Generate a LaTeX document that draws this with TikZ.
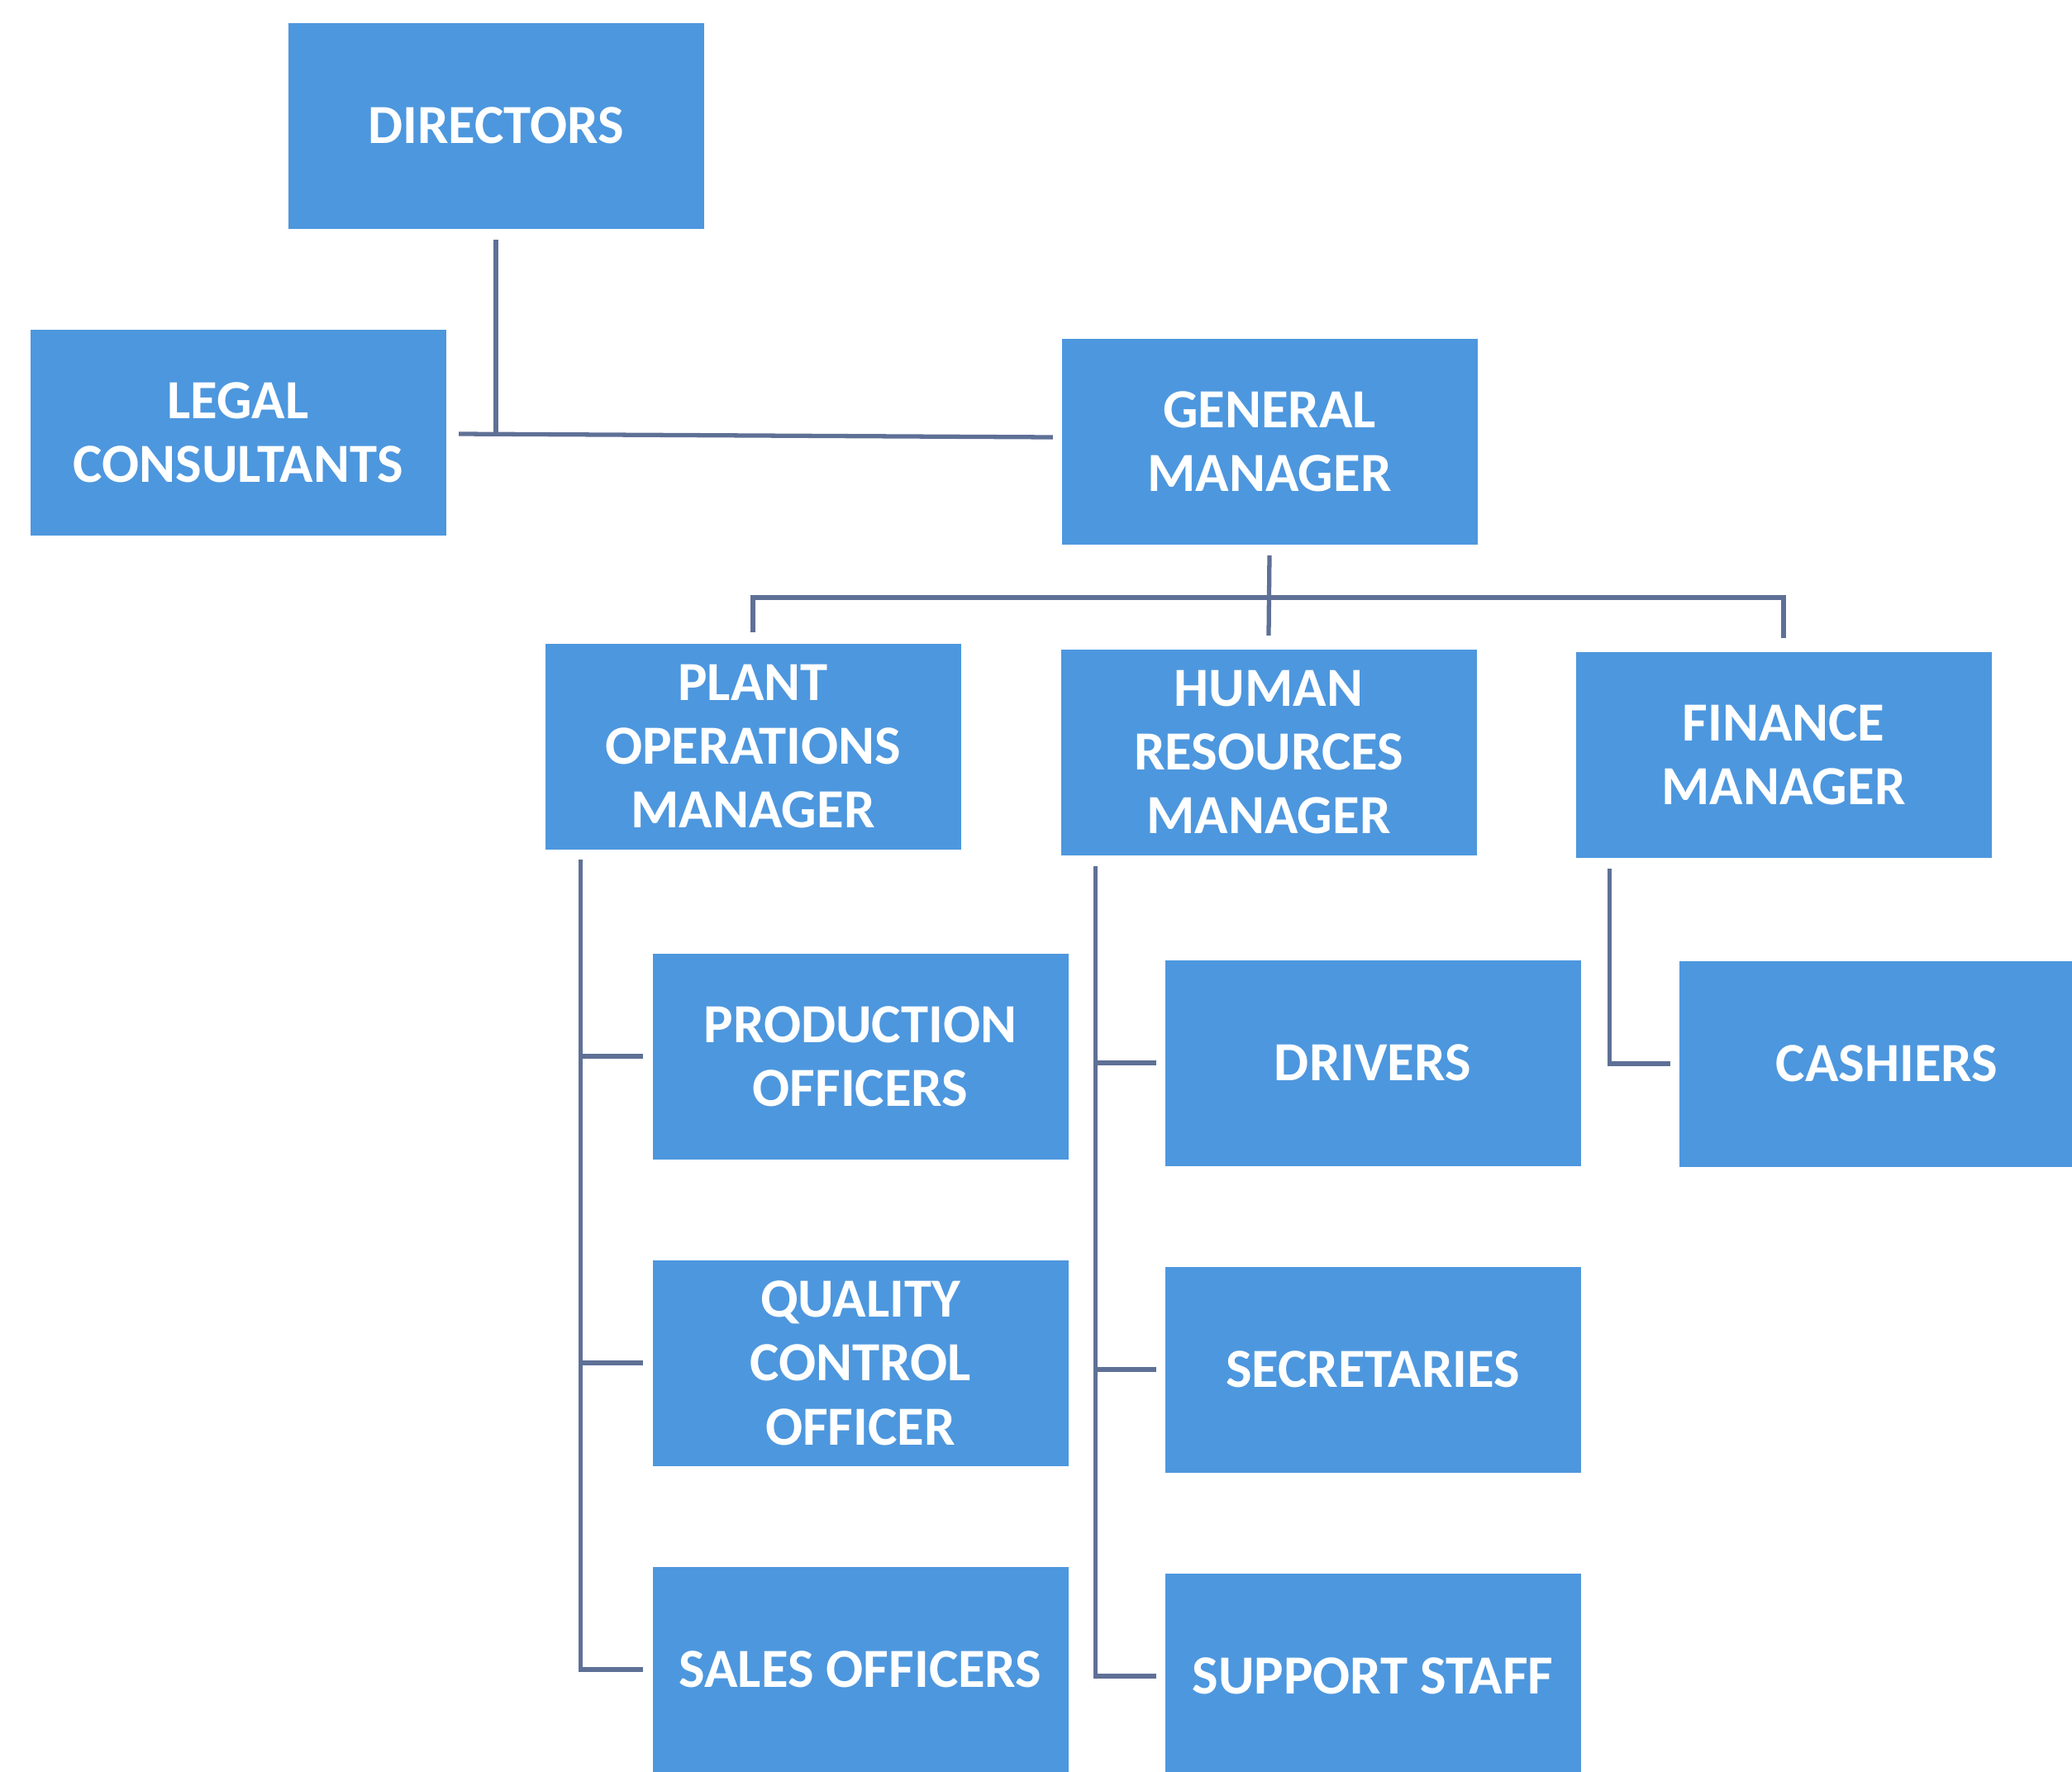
\documentclass[tikz,border=0pt]{standalone}
\usepackage{fontspec}
\setmainfont{Carlito}
\definecolor{boxblue}{RGB}{77,151,222}
\definecolor{linegray}{RGB}{95,112,150}

\begin{document}
\begin{tikzpicture}[
  post/.style={rectangle, fill=boxblue, text=white, align=center,
    font=\bfseries\fontsize{19}{22}\selectfont,
    minimum width=5.03cm, minimum height=2.49cm, inner sep=0pt},
  link/.style={draw=linegray, line width=1.5pt}
]
  \useasboundingbox (0,0) rectangle (25.07,-21.44);

  \node[post] (dir) at (6.00,-1.52) {DIRECTORS};
  \node[post] (legal) at (2.88,-5.23) {LEGAL\\CONSULTANTS};
  \node[post] (gm) at (15.36,-5.34) {GENERAL\\MANAGER};

  \node[post] (plant) at (9.11,-9.03) {PLANT\\OPERATIONS\\MANAGER};
  \node[post] (hr) at (15.35,-9.10) {HUMAN\\RESOURCES\\MANAGER};
  \node[post] (fin) at (21.58,-9.13) {FINANCE\\MANAGER};

  \foreach \n/\y/\lab in {prod/-12.78/{PRODUCTION\\OFFICERS}, qc/-16.49/{QUALITY\\CONTROL\\OFFICER}, sales/-20.20/{SALES OFFICERS}} {
    \node[post] (\n) at (10.41,\y) {\lab};
  }
  \foreach \n/\y/\lab in {drv/-12.86/DRIVERS, sec/-16.57/SECRETARIES, sup/-20.28/{SUPPORT STAFF}} {
    \node[post] (\n) at (16.61,\y) {\lab};
  }
  \node[post] (cash) at (22.83,-12.87) {CASHIERS};

  \draw[link] ([yshift=-.13cm]dir.south) -- (dir.south |- legal.east);
  \draw[link] ([xshift=.15cm,yshift=-.02cm]legal.east) -- ([xshift=-.1cm,yshift=.05cm]gm.west);

  \coordinate (bar) at (0,-7.23);
  \draw[link] ([yshift=-.13cm]gm.south) -- ([yshift=.16cm]hr.north);
  \draw[link] ([yshift=.13cm]plant.north) |- (fin.north |- bar) -- ([yshift=.16cm]fin.north);

  \coordinate (ps) at ([xshift=.44cm,yshift=-.12cm]plant.south west);
  \coordinate (hs) at ([xshift=.43cm,yshift=-.13cm]hr.south west);
  \coordinate (fs) at ([xshift=.42cm,yshift=-.13cm]fin.south west);
  \draw[link] (ps) |- ([xshift=-.11cm]sales.west);
  \draw[link] (hs) |- ([xshift=-.1cm]sup.west);
  \draw[link] (fs) |- ([xshift=-.1cm]cash.west);
  \foreach \c in {prod, qc} {
    \draw[link] (ps |- \c.west) -- ([xshift=-.11cm]\c.west);
  }
  \foreach \c in {drv, sec} {
    \draw[link] (hs |- \c.west) -- ([xshift=-.1cm]\c.west);
  }
\end{tikzpicture}
\end{document}
